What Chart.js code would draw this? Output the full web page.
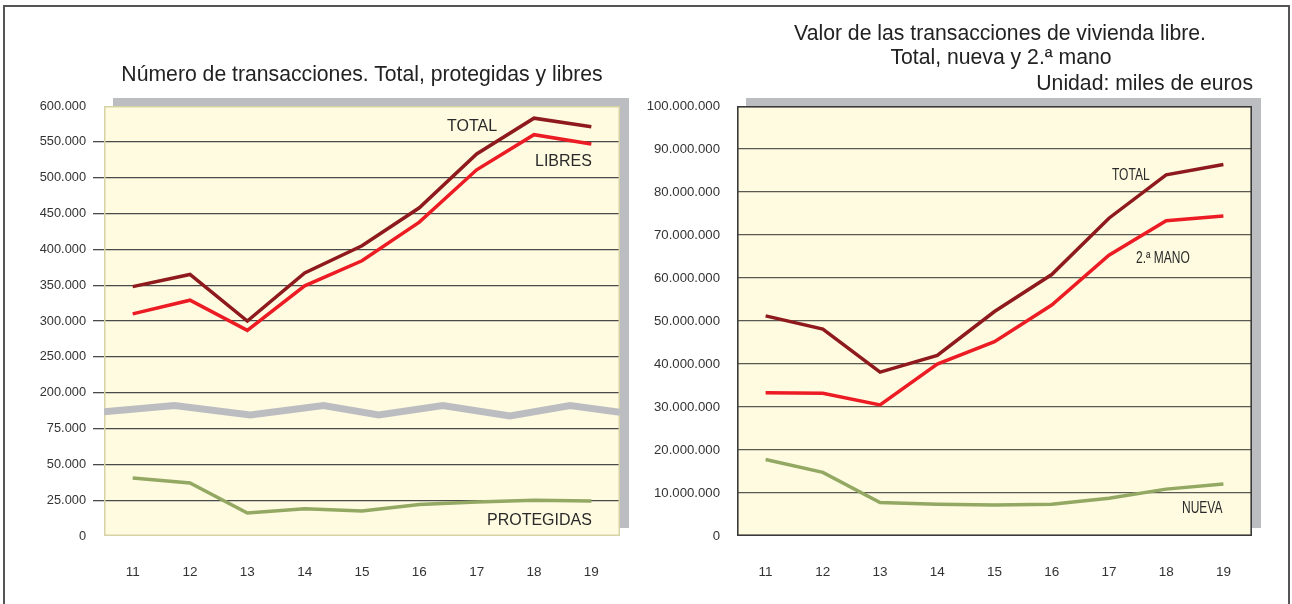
<!DOCTYPE html>
<html><head><meta charset="utf-8">
<script src="https://cdn.jsdelivr.net/npm/chart.js@4.4.1/dist/chart.umd.min.js"></script>
<style>
html,body{margin:0;padding:0;background:#fff;}
body{width:1292px;height:604px;position:relative;overflow:hidden;font-family:'Liberation Sans',Arial,sans-serif;}
#frame{position:absolute;left:3px;top:5px;width:1287px;height:640px;border:2px solid #555;box-sizing:border-box;}
.t{position:absolute;color:#222;font-size:21.2px;white-space:nowrap;line-height:21px;}
.lab{position:absolute;color:#2a2a2a;font-size:16px;white-space:nowrap;line-height:16px;}
.labn{position:absolute;color:#2a2a2a;font-size:16px;white-space:nowrap;line-height:16px;transform:scaleX(0.75);transform-origin:0 50%;}
.cw{position:absolute;top:0;width:646px;height:604px;}
</style></head>
<body>
<div id="frame"></div>
<div class="cw" style="left:0"><canvas id="c1" width="646" height="604"></canvas></div>
<div class="cw" style="left:646px"><canvas id="c2" width="646" height="604"></canvas></div>
<div class="t" style="left:362px;top:63px;transform:translateX(-50%)">Número de transacciones. Total, protegidas y libres</div>
<div class="t" style="left:1000px;top:22px;transform:translateX(-50%)">Valor de las transacciones de vivienda libre.</div>
<div class="t" style="left:1001px;top:46px;transform:translateX(-50%)">Total, nueva y 2.ª mano</div>
<div class="t" style="right:39px;top:72px;">Unidad: miles de euros</div>
<div class="lab" style="left:447px;top:118px;">TOTAL</div>
<div class="lab" style="left:535px;top:153px;">LIBRES</div>
<div class="lab" style="left:487px;top:512px;">PROTEGIDAS</div>
<div class="labn" style="left:1112px;top:167px;">TOTAL</div>
<div class="labn" style="left:1136px;top:250px;">2.ª MANO</div>
<div class="labn" style="left:1182px;top:500px;">NUEVA</div>
<script>
// ---------- data ----------
const years = ['11','12','13','14','15','16','17','18','19'];

// Left chart: número de transacciones
const leftTotal       = [348000, 365000, 300000, 367000, 405000, 458000, 533000, 583000, 571000];
const leftLibres      = [310000, 329000, 287000, 349000, 384000, 438000, 511000, 560000, 547000];
const leftProtegidas  = [40400, 37000, 16000, 19000, 17400, 22000, 23700, 25000, 24400];
// broken axis tick values / labels (bottom to top)
const leftTickValues  = [0, 25000, 50000, 75000, 200000, 250000, 300000, 350000, 400000, 450000, 500000, 550000, 600000];
const leftTickLabels  = ['0','25.000','50.000','75.000','200.000','250.000','300.000','350.000','400.000','450.000','500.000','550.000','600.000'];
// axis-break marker (zigzag), in category / tick-slot units
const breakMarkX = [-0.5, 0.73, 2.05, 3.33, 4.29, 5.41, 6.58, 7.63, 8.5];
const breakMarkY = [3.47, 3.64, 3.38, 3.64, 3.38, 3.64, 3.35, 3.64, 3.45];

// Right chart: valor de las transacciones (miles de euros)
const rightTotal   = [51200000, 48100000, 38100000, 42000000, 52200000, 60800000, 73900000, 84000000, 86400000];
const rightSegunda = [33300000, 33200000, 30500000, 40000000, 45200000, 53700000, 65300000, 73300000, 74400000];
const rightNueva   = [17800000, 14800000, 7800000, 7400000, 7200000, 7400000, 8800000, 10900000, 12100000];
const rightTickLabels = ['0','10.000.000','20.000.000','30.000.000','40.000.000','50.000.000','60.000.000','70.000.000','80.000.000','90.000.000','100.000.000'];

// ---------- helpers ----------
// map a value onto the broken left axis (tick slots)
function slot(v){
  for (let i = 1; i < leftTickValues.length; i++){
    if (v <= leftTickValues[i]){
      const a = leftTickValues[i-1], b = leftTickValues[i];
      return (i-1) + (v-a)/(b-a);
    }
  }
  return leftTickValues.length-1;
}
const FONT = "'Liberation Sans',Arial,sans-serif";
const TXT = '#333';
const C_TOTAL = '#8e1a1e', C_RED = '#ec1c24', C_GREEN = '#93a862', C_GRAY = '#bcbdc1';

const panel = {
  id: 'panel',
  beforeDraw(chart, args, o){
    const {ctx, chartArea: a} = chart;
    ctx.save();
    ctx.fillStyle = C_GRAY;
    ctx.fillRect(a.left + 9, a.top - 8, a.right - a.left, a.bottom - a.top);
    ctx.fillStyle = '#fefbe0';
    ctx.fillRect(a.left, a.top, a.right - a.left, a.bottom - a.top);
    ctx.restore();
  },
  beforeDatasetsDraw(chart, args, o){
    const {ctx, chartArea: a} = chart;
    ctx.save();
    ctx.strokeStyle = o.border;
    ctx.lineWidth = o.width;
    const h = o.width/2;
    ctx.strokeRect(a.left + h, a.top + h, a.right - a.left - o.width, a.bottom - a.top - o.width);
    ctx.restore();
  }
};
Chart.register(panel);

const lineDs = (label, data, color) => ({
  label, data, borderColor: color, borderWidth: 3.5, pointRadius: 0, tension: 0,
  fill: false, borderJoinStyle: 'miter', xAxisID: 'x', yAxisID: 'y'
});

// ---------- left chart ----------
new Chart(document.getElementById('c1'), {
  type: 'line',
  data: {
    labels: years,
    datasets: [
      { label: 'break', data: breakMarkX.map((x, i) => ({x, y: breakMarkY[i]})),
        borderColor: C_GRAY, borderWidth: 7, pointRadius: 0, tension: 0,
        xAxisID: 'xb', yAxisID: 'y', order: 10 },
      lineDs('PROTEGIDAS', leftProtegidas.map(slot), C_GREEN),
      lineDs('LIBRES', leftLibres.map(slot), C_RED),
      lineDs('TOTAL', leftTotal.map(slot), C_TOTAL)
    ]
  },
  options: {
    responsive: false, animation: false, devicePixelRatio: 1,
    layout: { padding: { left: 0, right: 26, top: 106, bottom: 0 } },
    plugins: { legend: { display: false }, tooltip: { enabled: false },
      panel: { border: '#d8d3a6', width: 1.5 } },
    scales: {
      x: { type: 'category', offset: true,
        grid: { display: false }, border: { display: false },
        ticks: { color: TXT, font: { family: FONT, size: 13.5 }, padding: 20, autoSkip: false, maxRotation: 0 },
        afterFit: s => { s.height = 68; } },
      xb: { type: 'linear', min: -0.5, max: 8.5, display: false },
      y: { type: 'linear', min: 0, max: leftTickValues.length - 1,
        afterBuildTicks: s => { s.ticks = leftTickValues.map((v, i) => ({ value: i })); },
        border: { display: false },
        grid: { color: c => (c.index === 0 || c.index === leftTickValues.length - 1) ? 'rgba(0,0,0,0)' : '#4a4a4a',
                lineWidth: 1.3, tickLength: 11, drawTicks: true },
        ticks: { color: TXT, font: { family: FONT, size: 12.8 }, padding: 7,
                 callback: (v) => leftTickLabels[v] },
        afterFit: s => { s.width = 104; } }
    }
  }
});

// ---------- right chart ----------
new Chart(document.getElementById('c2'), {
  type: 'line',
  data: {
    labels: years,
    datasets: [
      lineDs('NUEVA', rightNueva, C_GREEN),
      lineDs('2.ª MANO', rightSegunda, C_RED),
      lineDs('TOTAL', rightTotal, C_TOTAL)
    ]
  },
  options: {
    responsive: false, animation: false, devicePixelRatio: 1,
    layout: { padding: { left: 0, right: 40, top: 106, bottom: 0 } },
    plugins: { legend: { display: false }, tooltip: { enabled: false },
      panel: { border: '#3a3a3a', width: 1.6 } },
    scales: {
      x: { type: 'category', offset: true,
        grid: { display: false }, border: { display: false },
        ticks: { color: TXT, font: { family: FONT, size: 13.5 }, padding: 20, autoSkip: false, maxRotation: 0 },
        afterFit: s => { s.height = 68; } },
      y: { type: 'linear', min: 0, max: 100000000,
        border: { display: false },
        grid: { color: c => (c.index === 0 || c.index === 10) ? 'rgba(0,0,0,0)' : '#5a5a52',
                lineWidth: 1.3, drawTicks: false },
        ticks: { stepSize: 10000000, color: TXT, font: { family: FONT, size: 13.2 }, padding: 17,
                 callback: (v) => rightTickLabels[Math.round(v / 10000000)] },
        afterFit: s => { s.width = 91; } }
    }
  }
});
</script>
</body></html>
